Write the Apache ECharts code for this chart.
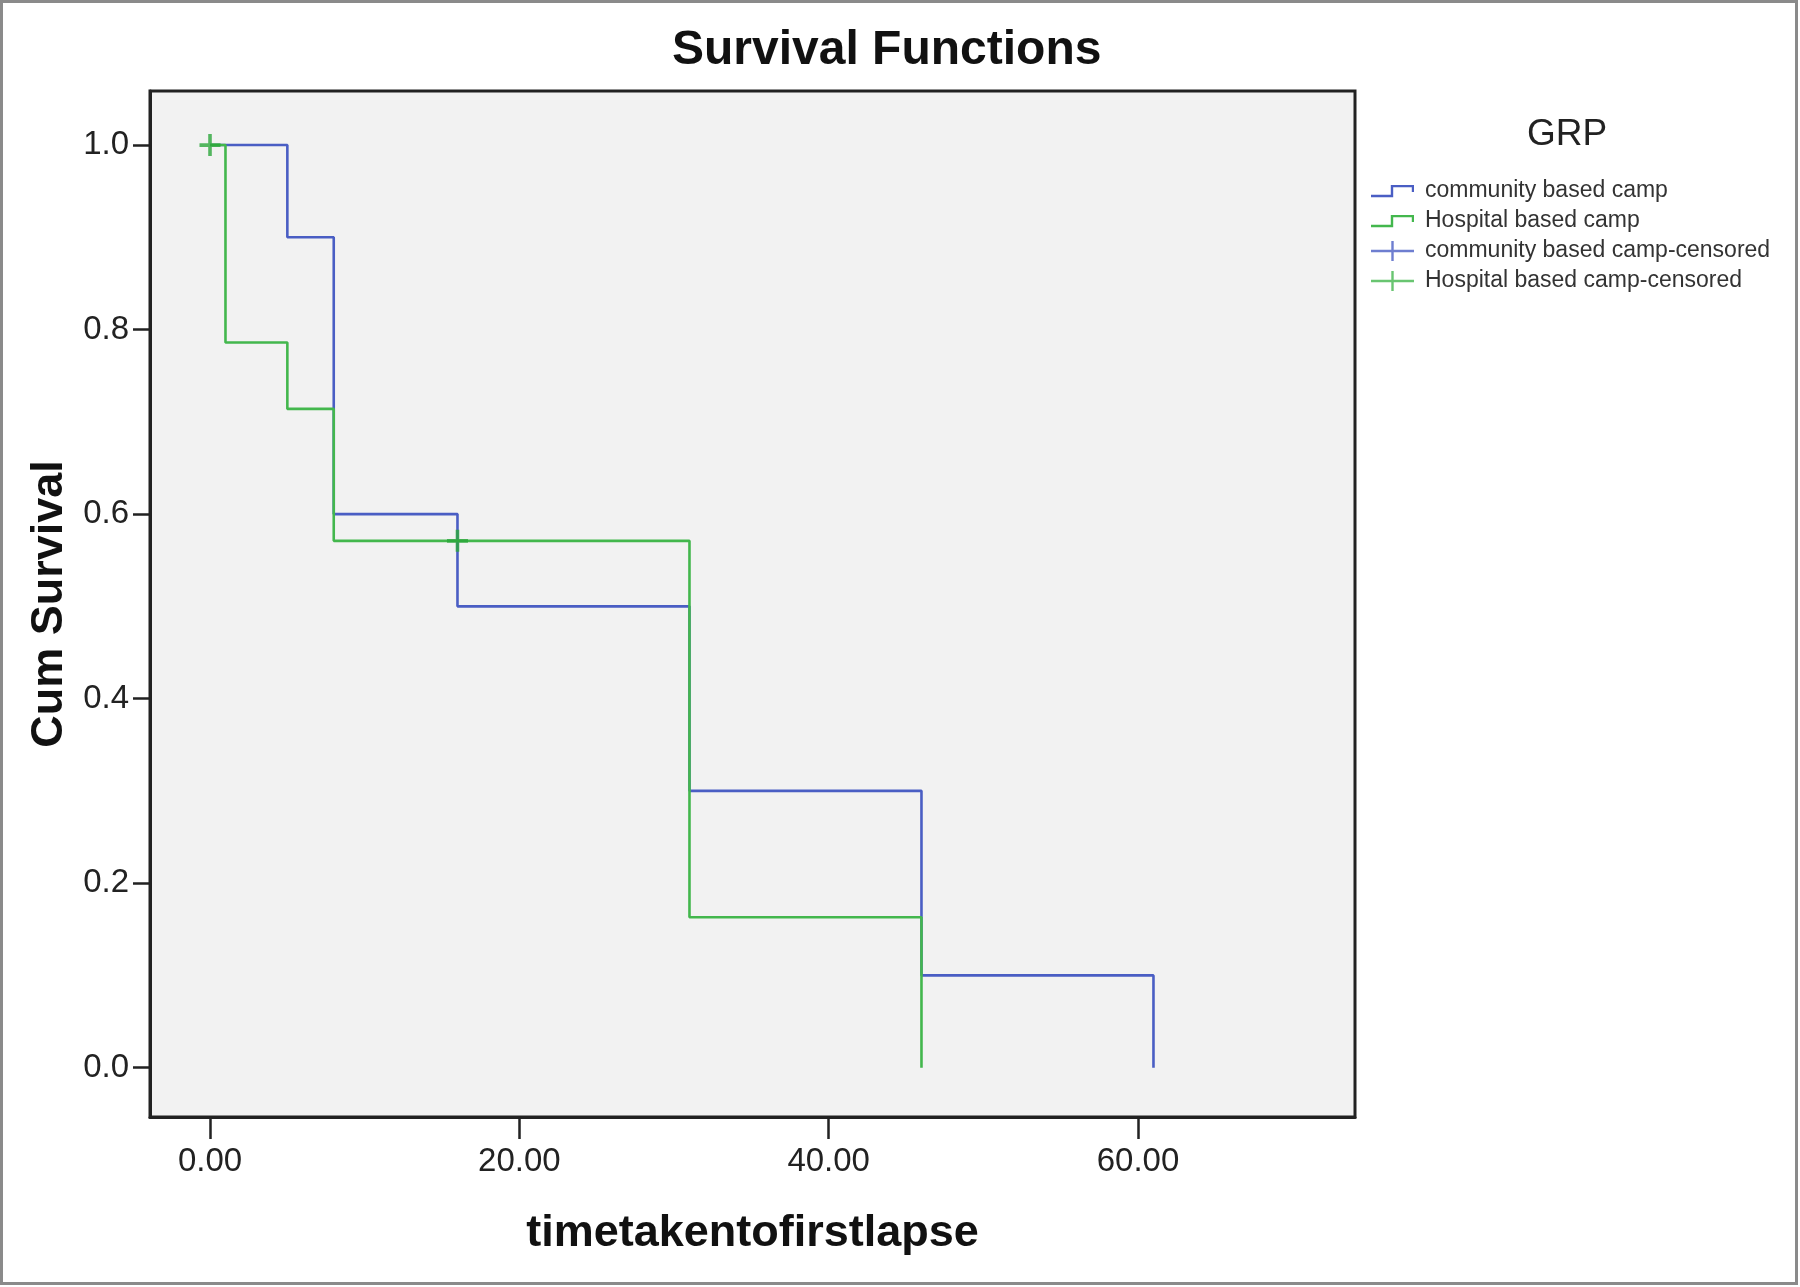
<!DOCTYPE html>
<html><head><meta charset="utf-8">
<script src="https://cdn.jsdelivr.net/npm/echarts@6/dist/echarts.min.js"></script>
<style>html,body{margin:0;padding:0;background:#fff;} #c{width:1800px;height:1287px;}</style>
</head><body><div id="c"></div>
<script>
// ---- data ----
const chartTitle = 'Survival Functions';
const legendTitle = 'GRP';
const xAxisName = 'timetakentofirstlapse';
const yAxisName = 'Cum Survival';
const seriesNames = ['community based camp', 'Hospital based camp', 'community based camp-censored', 'Hospital based camp-censored'];
const xTicks = [0, 20, 40, 60];
const yTicks = [0, 0.2, 0.4, 0.6, 0.8, 1.0];
const communityTime = [0, 5, 8, 16, 31, 46, 61];
const communitySurv = [1.0, 0.9, 0.6, 0.5, 0.3, 0.1, 0.0];
const hospitalTime = [0, 1, 5, 8, 31, 46];
const hospitalSurv = [1.0, 0.786, 0.714, 0.571, 0.163, 0.0];
const communityCensTime = [];
const communityCensSurv = [];
const hospitalCensTime = [0, 16];
const hospitalCensSurv = [1.0, 0.571];

// ---- styles ----
const BLUE = '#4a5ec4';
const GREEN = '#43b74d';
const GREEN_MARK = '#2aa63a';
const FONT = 'Liberation Sans, Arial, sans-serif';
const pair = (xs, ys) => xs.map((x, i) => [x, ys[i]]);
const pad = 'M0 0 L0.01 0 L0 0.01 Z M43 20 L42.99 20 L43 19.99 Z ';
const stepIcon = 'path://' + pad + 'M0 16.2 L22.2 16.2 L22.2 6.2 L40.8 6.2 L40.8 11 L43 11 L43 4 L19.8 4 L19.8 13.8 L0 13.8 Z';
const plusIcon = 'path://' + pad + 'M0 8.8 L20.3 8.8 L20.3 0 L22.7 0 L22.7 8.8 L43 8.8 L43 11.2 L22.7 11.2 L22.7 20 L20.3 20 L20.3 11.2 L0 11.2 Z';
const plusMark = 'path://M0 8.3 L8.3 8.3 L8.3 0 L11.7 0 L11.7 8.3 L20 8.3 L20 11.7 L11.7 11.7 L11.7 20 L8.3 20 L8.3 11.7 L0 11.7 Z';

const chart = echarts.init(document.getElementById('c'), null, {renderer: 'canvas'});
chart.setOption({
  backgroundColor: '#fff',
  animation: false,
  textStyle: {fontFamily: FONT},
  graphic: [{
    type: 'rect', silent: true, z: 100,
    shape: {x: 1.5, y: 1.5, width: 1795, height: 1282},
    style: {fill: 'none', stroke: '#8a8a8a', lineWidth: 3}
  }],
  title: [
    {text: chartTitle, left: 672, top: 27, padding: 0,
     textStyle: {fontSize: 48, fontWeight: 'bold', color: '#111', fontFamily: FONT}},
    {text: legendTitle, left: 1527, top: 116, padding: 0,
     textStyle: {fontSize: 37, fontWeight: 'normal', color: '#222', fontFamily: FONT}}
  ],
  legend: {
    orient: 'vertical', left: 1371, top: 179, padding: 0,
    itemWidth: 43, itemHeight: 20, itemGap: 6,
    textStyle: {fontSize: 23, color: '#333', fontFamily: FONT, lineHeight: 24, padding: [0, 0, 0, 6]},
    itemStyle: {borderWidth: 0},
    data: [
      {name: seriesNames[0], icon: stepIcon, itemStyle: {color: BLUE}},
      {name: seriesNames[1], icon: stepIcon, itemStyle: {color: GREEN}},
      {name: seriesNames[2], icon: plusIcon, itemStyle: {color: BLUE}},
      {name: seriesNames[3], icon: plusIcon, itemStyle: {color: GREEN}}
    ]
  },
  grid: {left: 150, top: 91, width: 1205, height: 1026, show: true,
         backgroundColor: '#f2f2f2', borderColor: '#222', borderWidth: 3, containLabel: false},
  xAxis: {
    type: 'value', min: -3.88, max: 74.03,
    name: xAxisName, nameLocation: 'middle', nameGap: 94,
    nameTextStyle: {fontSize: 45, fontWeight: 'bold', color: '#111', fontFamily: FONT},
    axisLine: {show: true, onZero: false, lineStyle: {color: '#222', width: 3}},
    axisTick: {show: true, customValues: xTicks, length: 22, lineStyle: {color: '#222', width: 2.5}},
    axisLabel: {customValues: xTicks, formatter: v => v.toFixed(2), margin: 28, fontSize: 33, color: '#222', fontFamily: FONT},
    splitLine: {show: false}
  },
  yAxis: {
    type: 'value', min: -0.0535, max: 1.0586,
    name: yAxisName, nameLocation: 'middle', nameGap: 75, nameRotate: 90,
    nameTextStyle: {fontSize: 45, fontWeight: 'bold', color: '#111', fontFamily: FONT},
    axisLine: {show: true, onZero: false, lineStyle: {color: '#222', width: 3}},
    axisTick: {show: true, customValues: yTicks, length: 17, lineStyle: {color: '#222', width: 2.5}},
    axisLabel: {customValues: yTicks, formatter: v => v.toFixed(1), margin: 21, fontSize: 33, color: '#222', fontFamily: FONT},
    splitLine: {show: false}
  },
  series: [
    {name: seriesNames[0], type: 'line', step: 'end', showSymbol: false, symbol: 'none',
     data: pair(communityTime, communitySurv), color: BLUE, lineStyle: {color: BLUE, width: 2.6}, z: 2},
    {name: seriesNames[1], type: 'line', step: 'end', showSymbol: false, symbol: 'none',
     data: pair(hospitalTime, hospitalSurv), color: GREEN, lineStyle: {color: GREEN, width: 2.6}, z: 3},
    {name: seriesNames[2], type: 'scatter', symbol: plusMark, symbolSize: [21, 22],
     data: pair(communityCensTime, communityCensSurv), itemStyle: {color: BLUE}, z: 4},
    {name: seriesNames[3], type: 'scatter', symbol: plusMark, symbolSize: [21, 22],
     data: pair(hospitalCensTime, hospitalCensSurv), itemStyle: {color: GREEN_MARK}, z: 5}
  ]
});
</script></body></html>
